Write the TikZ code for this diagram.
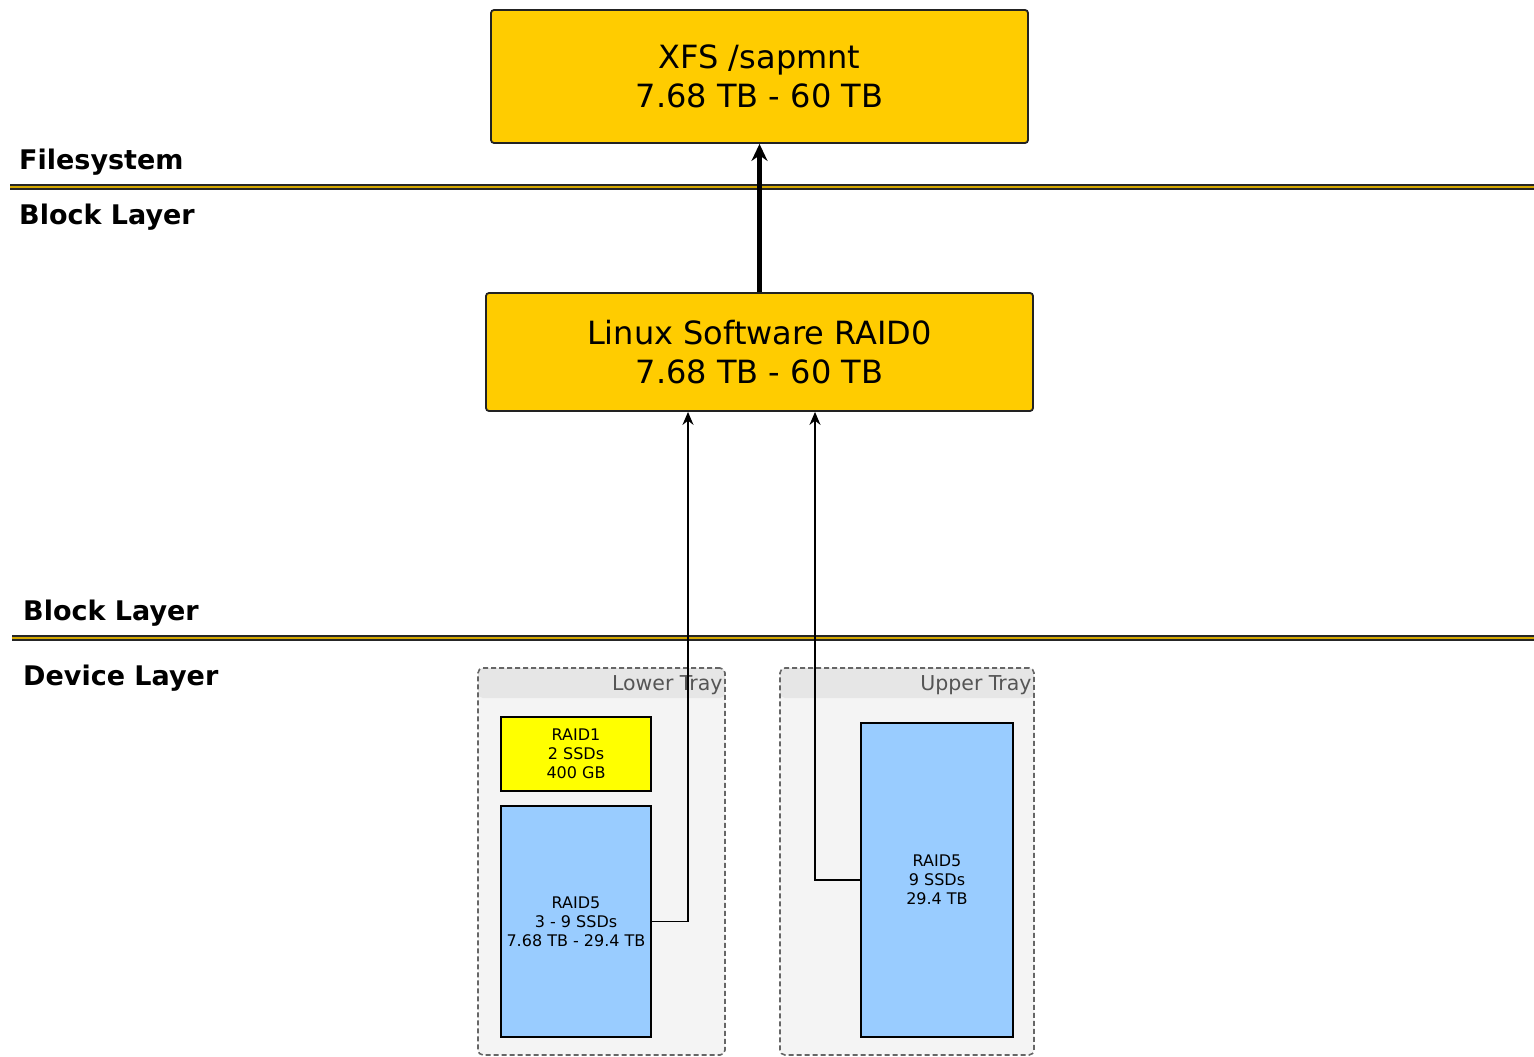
\documentclass[tikz,border=0pt]{standalone}
\usepackage{fontspec}
\setmainfont{DejaVu Sans}
\usetikzlibrary{arrows.meta,positioning}
\definecolor{boxgold}{HTML}{FFCC00}
\definecolor{linegold}{HTML}{D4A800}
\definecolor{raidyellow}{HTML}{FFFF00}
\definecolor{raidblue}{HTML}{99CCFF}
\definecolor{trayfill}{HTML}{F4F4F4}
\definecolor{trayhead}{HTML}{E6E6E6}
\definecolor{traytext}{HTML}{555555}
\definecolor{boxstroke}{HTML}{222222}
\tikzset{
  bigbox/.style={draw=boxstroke, line width=1.8pt, fill=boxgold, rounded corners=3pt,
    align=center, font=\fontsize{32}{38.5}\selectfont, inner sep=0pt},
  raidbox/.style={draw=black, line width=2pt, align=center,
    font=\fontsize{16}{19}\selectfont, inner sep=0pt},
  traybox/.style={draw=black!60, dashed, dash pattern=on 5pt off 3pt, line width=1.6pt,
    fill=trayfill, rounded corners=5pt, inner sep=0pt,
    path picture={\fill[trayhead] (path picture bounding box.north west) rectangle
      ([yshift=-30pt]path picture bounding box.north east);}},
  traytitle/.style={font=\fontsize{20.5}{24}\selectfont, text=traytext, inner sep=0pt, anchor=north east},
  layerlabel/.style={font=\bfseries\fontsize{27}{32}\selectfont, anchor=west, inner sep=0pt},
  layerouter/.style={line width=6.5pt, draw=black!85},
  layerinner/.style={line width=2.8pt, draw=linegold},
  thickarrow/.style={line width=5pt, -{Stealth[length=17pt,width=16pt]}},
  thinarrow/.style={line width=1.8pt, -{Stealth[length=13pt,width=11pt]}},
}
\begin{document}
\begin{tikzpicture}[x=1pt,y=-1pt]
\useasboundingbox (0,0) rectangle (1534,1057);

% layer lines
\coordinate (l1a) at (10,187);
\coordinate (l1b) at (1534,187);
\coordinate (l2a) at (12,638);
\coordinate (l2b) at (1534,638);
\draw[layerouter] (l1a) -- (l1b);
\draw[layerinner] (l1a) -- (l1b);
\draw[layerouter] (l2a) -- (l2b);
\draw[layerinner] (l2a) -- (l2b);

% layer labels
\node[layerlabel] (fs) at (19,162) {Filesystem};
\node[layerlabel] (bl1) at (19,217) {Block Layer};
\node[layerlabel] (bl2) at (23,613) {Block Layer};
\node[layerlabel] (dl) at (23,678) {Device Layer};

% main boxes
\node[bigbox, minimum width=537pt, minimum height=133pt] (xfs) at (759.5,76.5)
  {XFS /sapmnt\\7.68 TB - 60 TB};
\node[bigbox, minimum width=547pt, minimum height=118pt] (raid0) at (759.5,352)
  {Linux Software RAID0\\7.68 TB - 60 TB};

% trays
\node[traybox, minimum width=247pt, minimum height=387pt] (lower) at (601.5,861.5) {};
\node[traytitle] (lowert) at ([xshift=-3pt,yshift=-8pt]lower.north east) {Lower Tray};
\node[traybox, minimum width=254pt, minimum height=387pt] (upper) at (907,861.5) {};
\node[traytitle] (uppert) at ([xshift=-3pt,yshift=-8pt]upper.north east) {Upper Tray};

% raid boxes
\node[raidbox, fill=raidyellow, minimum width=150pt, minimum height=74pt] (raid1) at (576,754)
  {RAID1\\2 SSDs\\400 GB};
\node[raidbox, fill=raidblue, minimum width=150pt, minimum height=231pt] (raid5l) at (576,921.5)
  {RAID5\\3 - 9 SSDs\\7.68 TB - 29.4 TB};
\node[raidbox, fill=raidblue, minimum width=152pt, minimum height=314pt] (raid5u) at (937,880)
  {RAID5\\9 SSDs\\29.4 TB};

% connectors
\draw[thickarrow] (raid0.north) -- (xfs.south);
\draw[thinarrow] (raid5l.east) -| ([xshift=-71.5pt]raid0.south);
\draw[thinarrow] (raid5u.west) -| ([xshift=55.5pt]raid0.south);
\end{tikzpicture}
\end{document}
